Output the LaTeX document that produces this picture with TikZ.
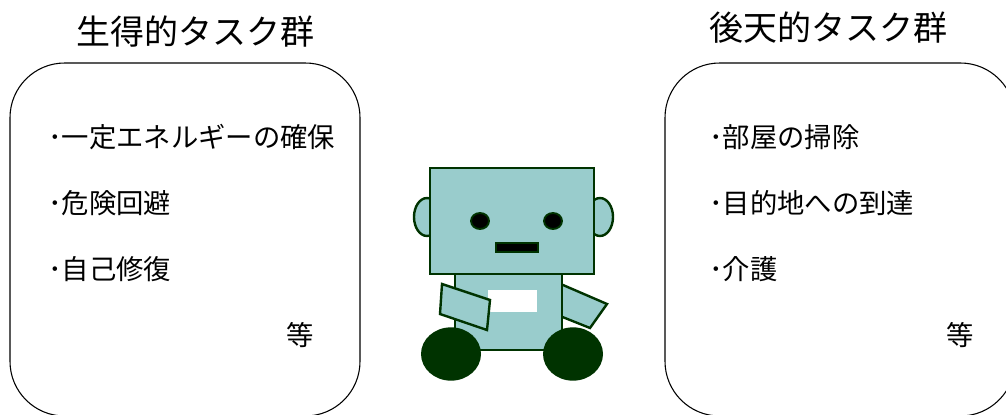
\documentclass[tikz,border=0pt]{standalone}
\usepackage{fontspec}
\usetikzlibrary{positioning}
\newfontfamily\jpfont{Noto Sans CJK JP}
\definecolor{robotteal}{HTML}{99CCCC}
\definecolor{robotgreen}{HTML}{003300}

\begin{document}
\begin{tikzpicture}[
    x=0.75pt,y=-0.75pt,
    every node/.style={inner sep=0pt},
    title/.style={font=\jpfont\fontsize{25.5}{30}\selectfont},
    item/.style={anchor=west,font=\jpfont\fontsize{20.5}{24}\selectfont},
    taskbox/.style={draw,line width=0.8pt,rounded corners=41pt,
                    minimum width=262.5pt,minimum height=264.75pt},
    part/.style={draw=robotgreen,line width=1.8pt,fill=robotteal},
    dark/.style={draw=robotgreen,line width=1.4pt,fill=black}
]
\useasboundingbox (0,0) rectangle (1006,414);
\clip (0,0) rectangle (1006,414);

\node[taskbox] (innate) at (185,239.5) {};
\node[taskbox] (acquired) at (840,239.5) {};
\node[title] (innatetitle) at (195,32) {生得的タスク群};
\node[title] (acquiredtitle) at (828,28) {後天的タスク群};

\node[item] (in1) at (48,137) {･一定エネルギーの確保};
\node[item,below=49.5pt of in1.west,anchor=west] (in2) {･危険回避};
\node[item,below=49.5pt of in2.west,anchor=west] (in3) {･自己修復};
\node[item,anchor=center] (inetc) at (300,335) {等};

\node[item] (ac1) at (709,137) {･部屋の掃除};
\node[item,below=49.5pt of ac1.west,anchor=west] (ac2) {･目的地への到達};
\node[item,below=49.5pt of ac2.west,anchor=west] (ac3) {･介護};
\node[item,anchor=center] (acetc) at (960,335) {等};

% robot
\draw[part] (550,279) -- (563,285) -- (607,304) -- (590,328) -- (550,312) -- cycle;
\draw[part] (427,217) ellipse [x radius=9.75pt,y radius=14.25pt];
\draw[part] (600,217) ellipse [x radius=9.75pt,y radius=14.25pt];
\draw[part] (430,168) rectangle (594,274);
\draw[part] (455,274) rectangle (562,350);
\fill[white] (488,290) rectangle (537,312);
\draw[part] (442,284) -- (490,300) -- (487,330) -- (440,314) -- cycle;
\fill[robotgreen] (451,354) ellipse [x radius=22.5pt,y radius=20pt];
\fill[robotgreen] (573,354) ellipse [x radius=22.5pt,y radius=20pt];
\draw[dark] (480,221) ellipse [x radius=6.75pt,y radius=6pt];
\draw[dark] (553,221) ellipse [x radius=6.75pt,y radius=6pt];
\draw[dark] (496,243) rectangle (538,252);
\end{tikzpicture}
\end{document}
